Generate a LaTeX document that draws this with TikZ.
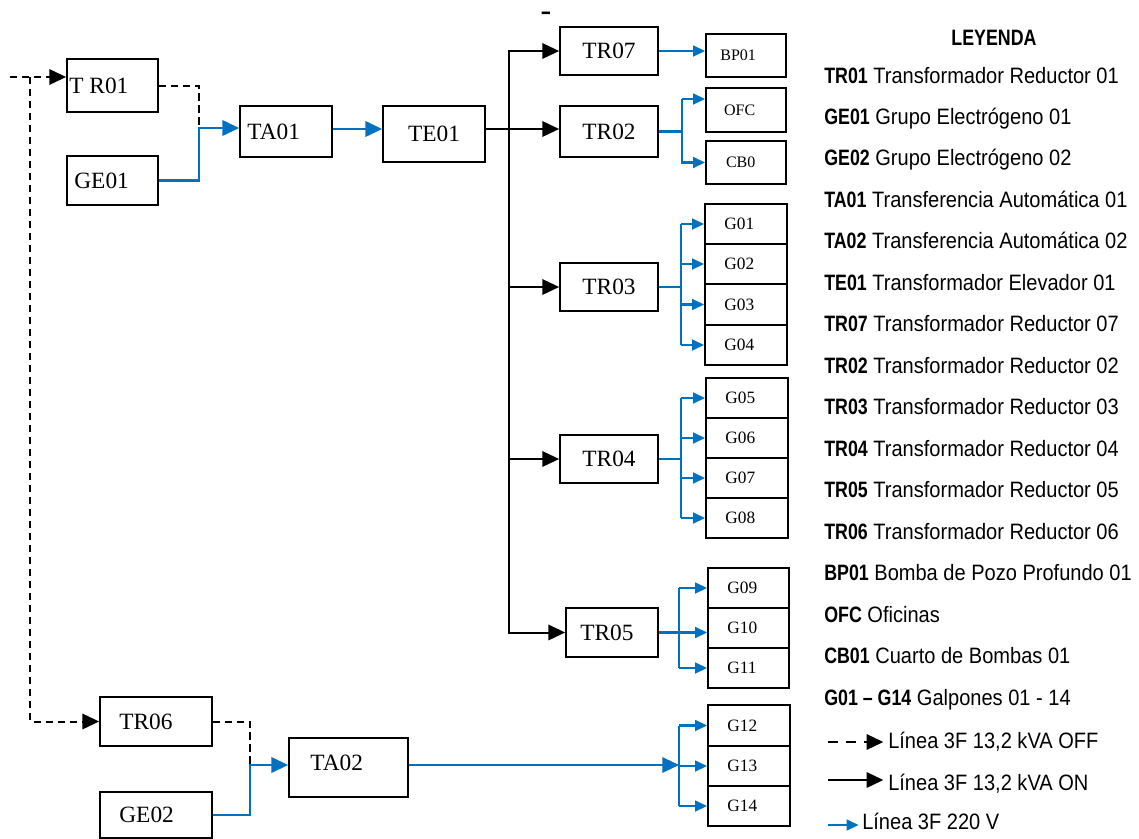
\documentclass[tikz,border=0pt]{standalone}
\usepackage{fontspec}
\setmainfont{Liberation Serif}
\newfontfamily\legf[FakeStretch=0.9]{Liberation Sans}
\newfontfamily\legb[FakeStretch=0.8]{Liberation Sans}
\newfontfamily\markf{DejaVu Sans}
\newcommand\lb[1]{{\legb\bfseries #1}}
\usetikzlibrary{arrows.meta,fit}
\definecolor{bl}{HTML}{0070C0}
\begin{document}
\begin{tikzpicture}[x=0.75pt,y=-0.75pt,
  bx/.style={draw,line width=1.3pt,inner sep=0pt},
  tf/.style={font=\fontsize{17.5}{20}\selectfont},
  gf/.style={font=\fontsize{13}{15}\selectfont},
  sf/.style={font=\fontsize{12}{14}\selectfont},
  lbl/.style={anchor=west,inner sep=0pt,xshift=#1},
  ctr/.style={anchor=center,inner sep=0pt},
  blk/.style={line width=1.5pt},
  dsh/.style={line width=1.5pt,dash pattern=on 5.5pt off 3.5pt},
  blu/.style={draw=bl,line width=1.7pt},
  tbig/.tip={Triangle[length=12.5pt,width=11.5pt]},
  tsml/.tip={Triangle[length=9pt,width=8pt]},
  lg/.style={anchor=base west,inner sep=0pt,font=\legf\fontsize{16.7}{19}\selectfont}
]
\useasboundingbox (0,0) rectangle (1139,839);

% boxes
\node[bx,fit={(67,59)(158,112)},label={[lbl=2.25pt,tf]west:T R01}] (tr01) {};
\node[bx,fit={(67,156)(158,205)},label={[lbl=6pt,tf]west:GE01}] (ge01) {};
\node[bx,fit={(240,106)(332,157)},label={[lbl=6pt,tf]west:TA01}] (ta01) {};
\node[bx,fit={(383,106)(485,162)},label={[ctr,tf]center:TE01}] (te01) {};
\node[bx,fit={(560,27)(658,75)},label={[ctr,tf]center:TR07}] (tr07) {};
\node[bx,fit={(560,106)(658,157)},label={[ctr,tf]center:TR02}] (tr02) {};
\node[bx,fit={(560,263)(658,311)},label={[ctr,tf]center:TR03}] (tr03) {};
\node[bx,fit={(560,435)(658,483)},label={[ctr,tf]center:TR04}] (tr04) {};
\node[bx,fit={(566,608)(658,657)},label={[lbl=11.25pt,tf]west:TR05}] (tr05) {};
\node[bx,fit={(100,697)(212,746)},label={[lbl=15pt,tf]west:TR06}] (tr06) {};
\node[bx,fit={(100,792)(212,838)},label={[lbl=15pt,tf]west:GE02}] (ge02) {};
\node[bx,fit={(289,738)(408,797)},label={[lbl=16.5pt,yshift=3.5pt,tf]west:TA02}] (ta02) {};
\node[bx,fit={(706,34)(786,77)},label={[lbl=11.25pt,sf]west:BP01}] (bp01) {};
\node[bx,fit={(706,88)(786,132)},label={[lbl=14pt,sf]west:OFC}] (ofc) {};
\node[bx,fit={(706,141)(786,184)},label={[lbl=15.5pt,sf]west:CB0}] (cb0) {};
% G boxes
\node[bx,fit={(705,204)(787,244)},label={[lbl=15pt,gf]west:G01}] (g01) {};
\node[bx,fit={(705,244)(787,284)},label={[lbl=15pt,gf]west:G02}] (g02) {};
\node[bx,fit={(705,284)(787,325)},label={[lbl=15pt,gf]west:G03}] (g03) {};
\node[bx,fit={(705,325)(787,365)},label={[lbl=15pt,gf]west:G04}] (g04) {};
\node[bx,fit={(706,378)(788,418)},label={[lbl=15pt,gf]west:G05}] (g05) {};
\node[bx,fit={(706,418)(788,458)},label={[lbl=15pt,gf]west:G06}] (g06) {};
\node[bx,fit={(706,458)(788,498)},label={[lbl=15pt,gf]west:G07}] (g07) {};
\node[bx,fit={(706,498)(788,538)},label={[lbl=15pt,gf]west:G08}] (g08) {};
\node[bx,fit={(708,568)(789,608)},label={[lbl=15pt,gf]west:G09}] (g09) {};
\node[bx,fit={(708,608)(789,648)},label={[lbl=15pt,gf]west:G10}] (g10) {};
\node[bx,fit={(708,648)(789,688)},label={[lbl=15pt,gf]west:G11}] (g11) {};
\node[bx,fit={(708,705)(790,746)},label={[lbl=15pt,gf]west:G12}] (g12) {};
\node[bx,fit={(708,746)(790,786)},label={[lbl=15pt,gf]west:G13}] (g13) {};
\node[bx,fit={(708,786)(790,826)},label={[lbl=15pt,gf]west:G14}] (g14) {};

\node[inner sep=0pt,anchor=base,font=\markf\bfseries\fontsize{13.5}{15}\selectfont] (mark) at (546,18) {\scalebox{1.5}[1]{-}};

% connectors
\coordinate (in) at (10,77);
\coordinate (jn) at (30,77);
\draw[dsh,-tbig] (in) -- (in -| tr01.west);
\draw[dsh,-tbig] (jn) |- (tr06.west);
\coordinate (m1) at (199,128);
\draw[dsh] (tr01.east) -| (m1);
\draw[blu,-tbig] (ge01.east) -| (m1) -- (m1 -| ta01.west);
\coordinate (v) at (509,129);
\draw[blu,-tbig] (ta01.east |- v) -- (v -| te01.west);
\draw[blk,-tbig] (te01.east |- v) -- (v -| tr02.west);
\draw[blk,tbig-tbig] (tr07.west) -- (v |- tr07.west) -- (v |- tr05.west) -- (tr05.west);
\draw[blk,-tbig] (v |- tr03.west) -- (tr03.west);
\draw[blk,-tbig] (v |- tr04.west) -- (tr04.west);
\draw[blu,-tsml] (tr07.east) -- (tr07.east -| bp01.west);
% TR02
\coordinate (o2) at (682,99);
\draw[blu] (tr02.east) -- (tr02.east -| o2);
\draw[blu,-tsml] (o2) -- (o2 -| ofc.west);
\draw[blu,-tsml] (o2) |- (cb0.west);
% TR03
\coordinate (k3) at (681,0);
\draw[blu] (tr03.east) -- (tr03.east -| k3);
\draw[blu] (k3 |- g01.west) -- (k3 |- g04.west);
\foreach \g in {g01,g02,g03,g04} \draw[blu,-tsml] (k3 |- \g.west) -- (\g.west);
% TR04
\coordinate (k4) at (681,0);
\draw[blu] (tr04.east) -- (tr04.east -| k4);
\draw[blu] (k4 |- g05.west) -- (k4 |- g08.west);
\foreach \g in {g05,g06,g07,g08} \draw[blu,-tsml] (k4 |- \g.west) -- (\g.west);
% TR05
\coordinate (k5) at (679,0);
\draw[blu,-tsml] (tr05.east) -- (tr05.east -| g10.west);
\draw[blu] (k5 |- g09.west) -- (k5 |- g11.west);
\foreach \g in {g09,g11} \draw[blu,-tsml] (k5 |- \g.west) -- (\g.west);
% TR06 / GE02
\coordinate (m2) at (250,765);
\draw[dsh] (tr06.east) -| (m2);
\draw[blu,-tbig] (ge02.east) -| (m2) -- (m2 -| ta02.west);
\coordinate (k6) at (679,765);
\draw[blu,-tbig] (ta02.east |- k6) -- (k6);
\draw[blu] (k6 |- g12.west) -- (k6 |- g14.west);
\foreach \g in {g12,g13,g14} \draw[blu,-tsml] (k6 |- \g.west) -- (\g.west);

% legend
\node[inner sep=0pt,anchor=base,font=\legb\bfseries\fontsize{16.7}{19}\selectfont] (ley) at (994,45) {LEYENDA};
\foreach \i/\a/\b in {0/TR01/Transformador Reductor 01,
  1/GE01/Grupo Electrógeno 01,
  2/GE02/Grupo Electrógeno 02,
  3/TA01/Transferencia Automática 01,
  4/TA02/Transferencia Automática 02,
  5/TE01/Transformador Elevador 01,
  6/TR07/Transformador Reductor 07,
  7/TR02/Transformador Reductor 02,
  8/TR03/Transformador Reductor 03,
  9/TR04/Transformador Reductor 04,
  10/TR05/Transformador Reductor 05,
  11/TR06/Transformador Reductor 06,
  12/BP01/Bomba de Pozo Profundo 01,
  13/OFC/Oficinas,
  14/CB01/Cuarto de Bombas 01,
  15/G01 – G14/Galpones 01 - 14}
  \node[lg] (L\i) at (824,{83+41.47*\i}) {\lb{\a} \b};

\node[lg] (lt1) at (888,748) {Línea 3F 13,2 kVA OFF};
\node[lg] (lt2) at (888,790) {Línea 3F 13,2 kVA ON};
\node[lg] (lt3) at (862,829) {Línea 3F 220 V};
\coordinate (la) at (828,742);
\coordinate (lbb) at (828,780);
\coordinate (lc) at (828,825);
\draw[dsh,dash pattern=on 7.5pt off 6pt,-tbig,shorten >=3.5pt] (la) -- (la -| lt1.west);
\draw[blk,-tbig,shorten >=3.5pt] (lbb) -- (lbb -| lt2.west);
\draw[blu,-tsml,shorten >=2.5pt] (lc) -- (lc -| lt3.west);
\end{tikzpicture}
\end{document}
